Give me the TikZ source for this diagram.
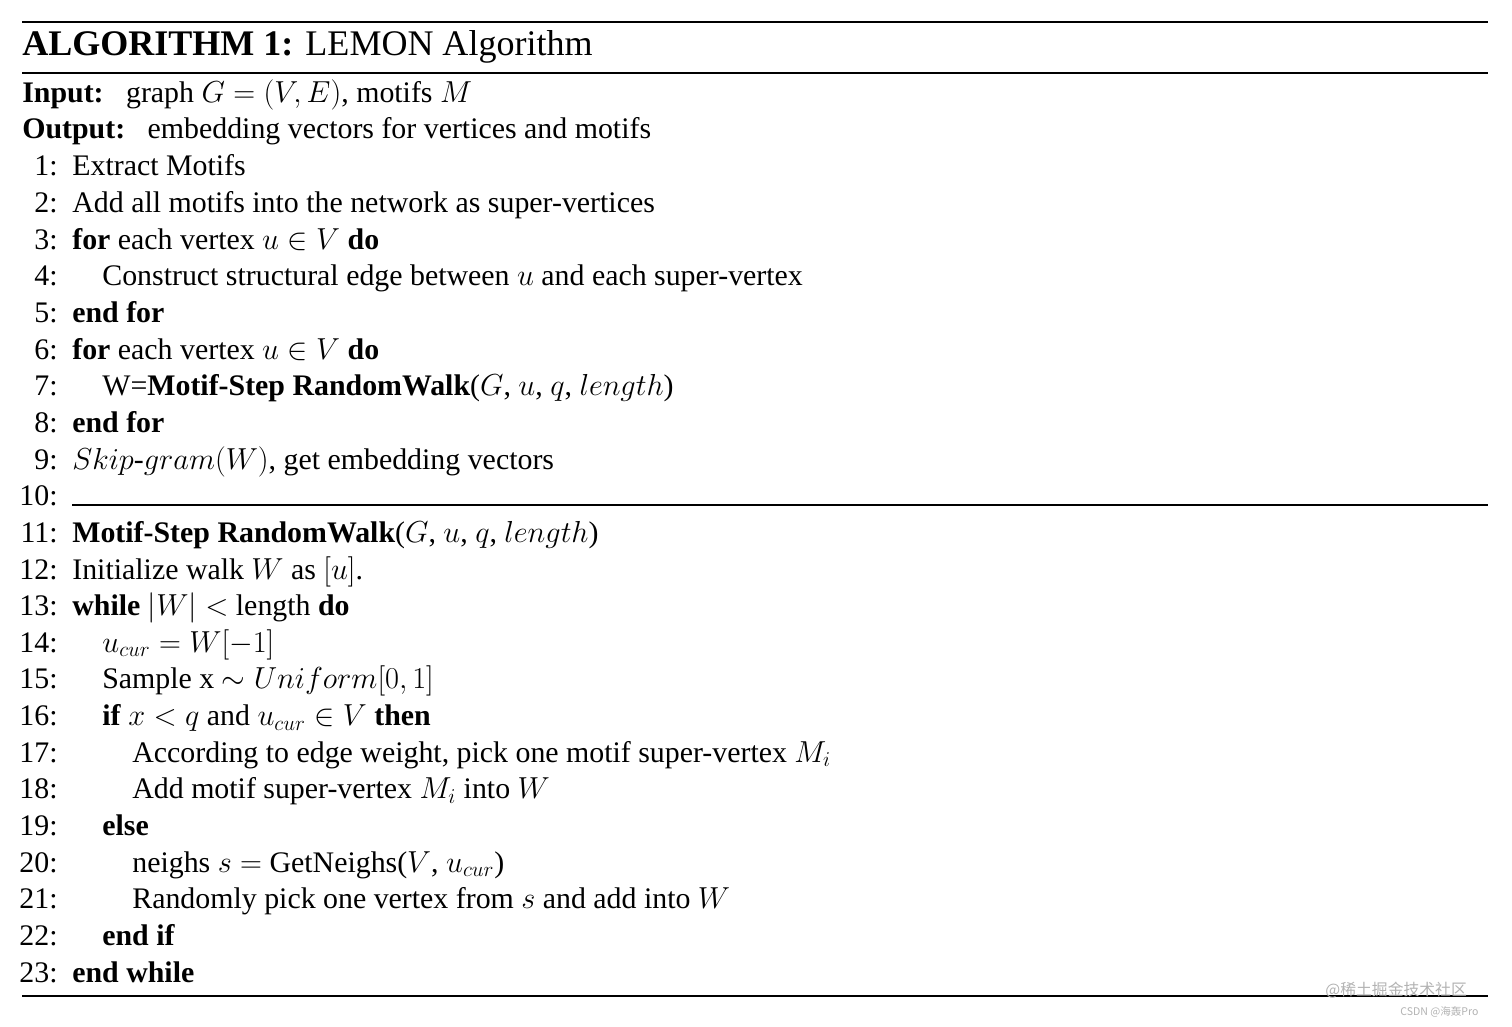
\documentclass[tikz,border=0pt]{standalone}
\usepackage{fontspec}
\setmainfont{Liberation Serif}
\newfontfamily\cjk{Noto Sans CJK SC}
\begin{document}
\begin{tikzpicture}[x=0.02cm,y=-0.02cm,
  txt/.style={anchor=base west,inner sep=0pt,font=\fontsize{17}{20}\selectfont},
  num/.style={anchor=base east,inner sep=0pt,font=\fontsize{17}{20}\selectfont},
  rule/.style={line width=1.2pt}]
\useasboundingbox (0,0) rectangle (1512,1027);
\draw[rule] (22,22) -- (1488,22);
\draw[line width=0.8pt] (22,73) -- (1488,73);
\draw[line width=0.8pt] (22,996) -- (1488,996);
\node[txt,font=\fontsize{20.5}{24}\selectfont] (title) at (22,56) {\textbf{ALGORITHM 1:} LEMON Algorithm};
\node[txt] (in) at (22,103) {\textbf{Input:}\ \ \ graph $G=(V,E)$, motifs $M$};
\node[txt] (out) at (22,139) {\textbf{Output:}\ \ \ embedding vectors for vertices and motifs};
\foreach \i/\ind/\t in {
 1/0/{Extract Motifs},
 2/0/{Add all motifs into the network as super-vertices},
 3/0/{\textbf{for} each vertex $u\in V$ \textbf{do}},
 4/1/{Construct structural edge between $u$ and each super-vertex},
 5/0/{\textbf{end for}},
 6/0/{\textbf{for} each vertex $u\in V$ \textbf{do}},
 7/1/{W=\textbf{Motif-Step RandomWalk}($G$, $u$, $q$, $length$)},
 8/0/{\textbf{end for}},
 9/0/{$Skip\textrm{-}gram(W)$, get embedding vectors},
 10/0/{},
 11/0/{\textbf{Motif-Step RandomWalk}($G$, $u$, $q$, $length$)},
 12/0/{Initialize walk $W$ as $[u]$.},
 13/0/{\textbf{while} $|W|<$ length \textbf{do}},
 14/1/{$u_{cur}=W[-1]$},
 15/1/{Sample x $\sim Uniform[0,1]$},
 16/1/{\textbf{if} $x<q$ and $u_{cur}\in V$ \textbf{then}},
 17/2/{According to edge weight, pick one motif super-vertex $M_i$},
 18/2/{Add motif super-vertex $M_i$ into $W$},
 19/1/{\textbf{else}},
 20/2/{neighs $s=$ GetNeighs($V$, $u_{cur}$)},
 21/2/{Randomly pick one vertex from $s$ and add into $W$},
 22/1/{\textbf{end if}},
 23/0/{\textbf{end while}}}{
  \pgfmathsetmacro\yy{176+(\i-1)*36.64}
  \node[num] (n\i) at (58,\yy) {\i:};
  \node[txt] (l\i) at (72+30*\ind,\yy) {\t};
}
\coordinate (ra) at (72,505);
\coordinate (rb) at (1488,505);
\draw[line width=0.8pt] (ra) -- (rb);
\node[anchor=west,inner sep=0pt,text=gray!60,font=\cjk\fontsize{9}{10}\selectfont] (wm1) at (1325,990) {@稀土掘金技术社区};
\node[anchor=west,inner sep=0pt,text=gray!60,font=\cjk\fontsize{6}{7}\selectfont] (wm2) at (1400,1012) {CSDN @海轰Pro};
\end{tikzpicture}
\end{document}
